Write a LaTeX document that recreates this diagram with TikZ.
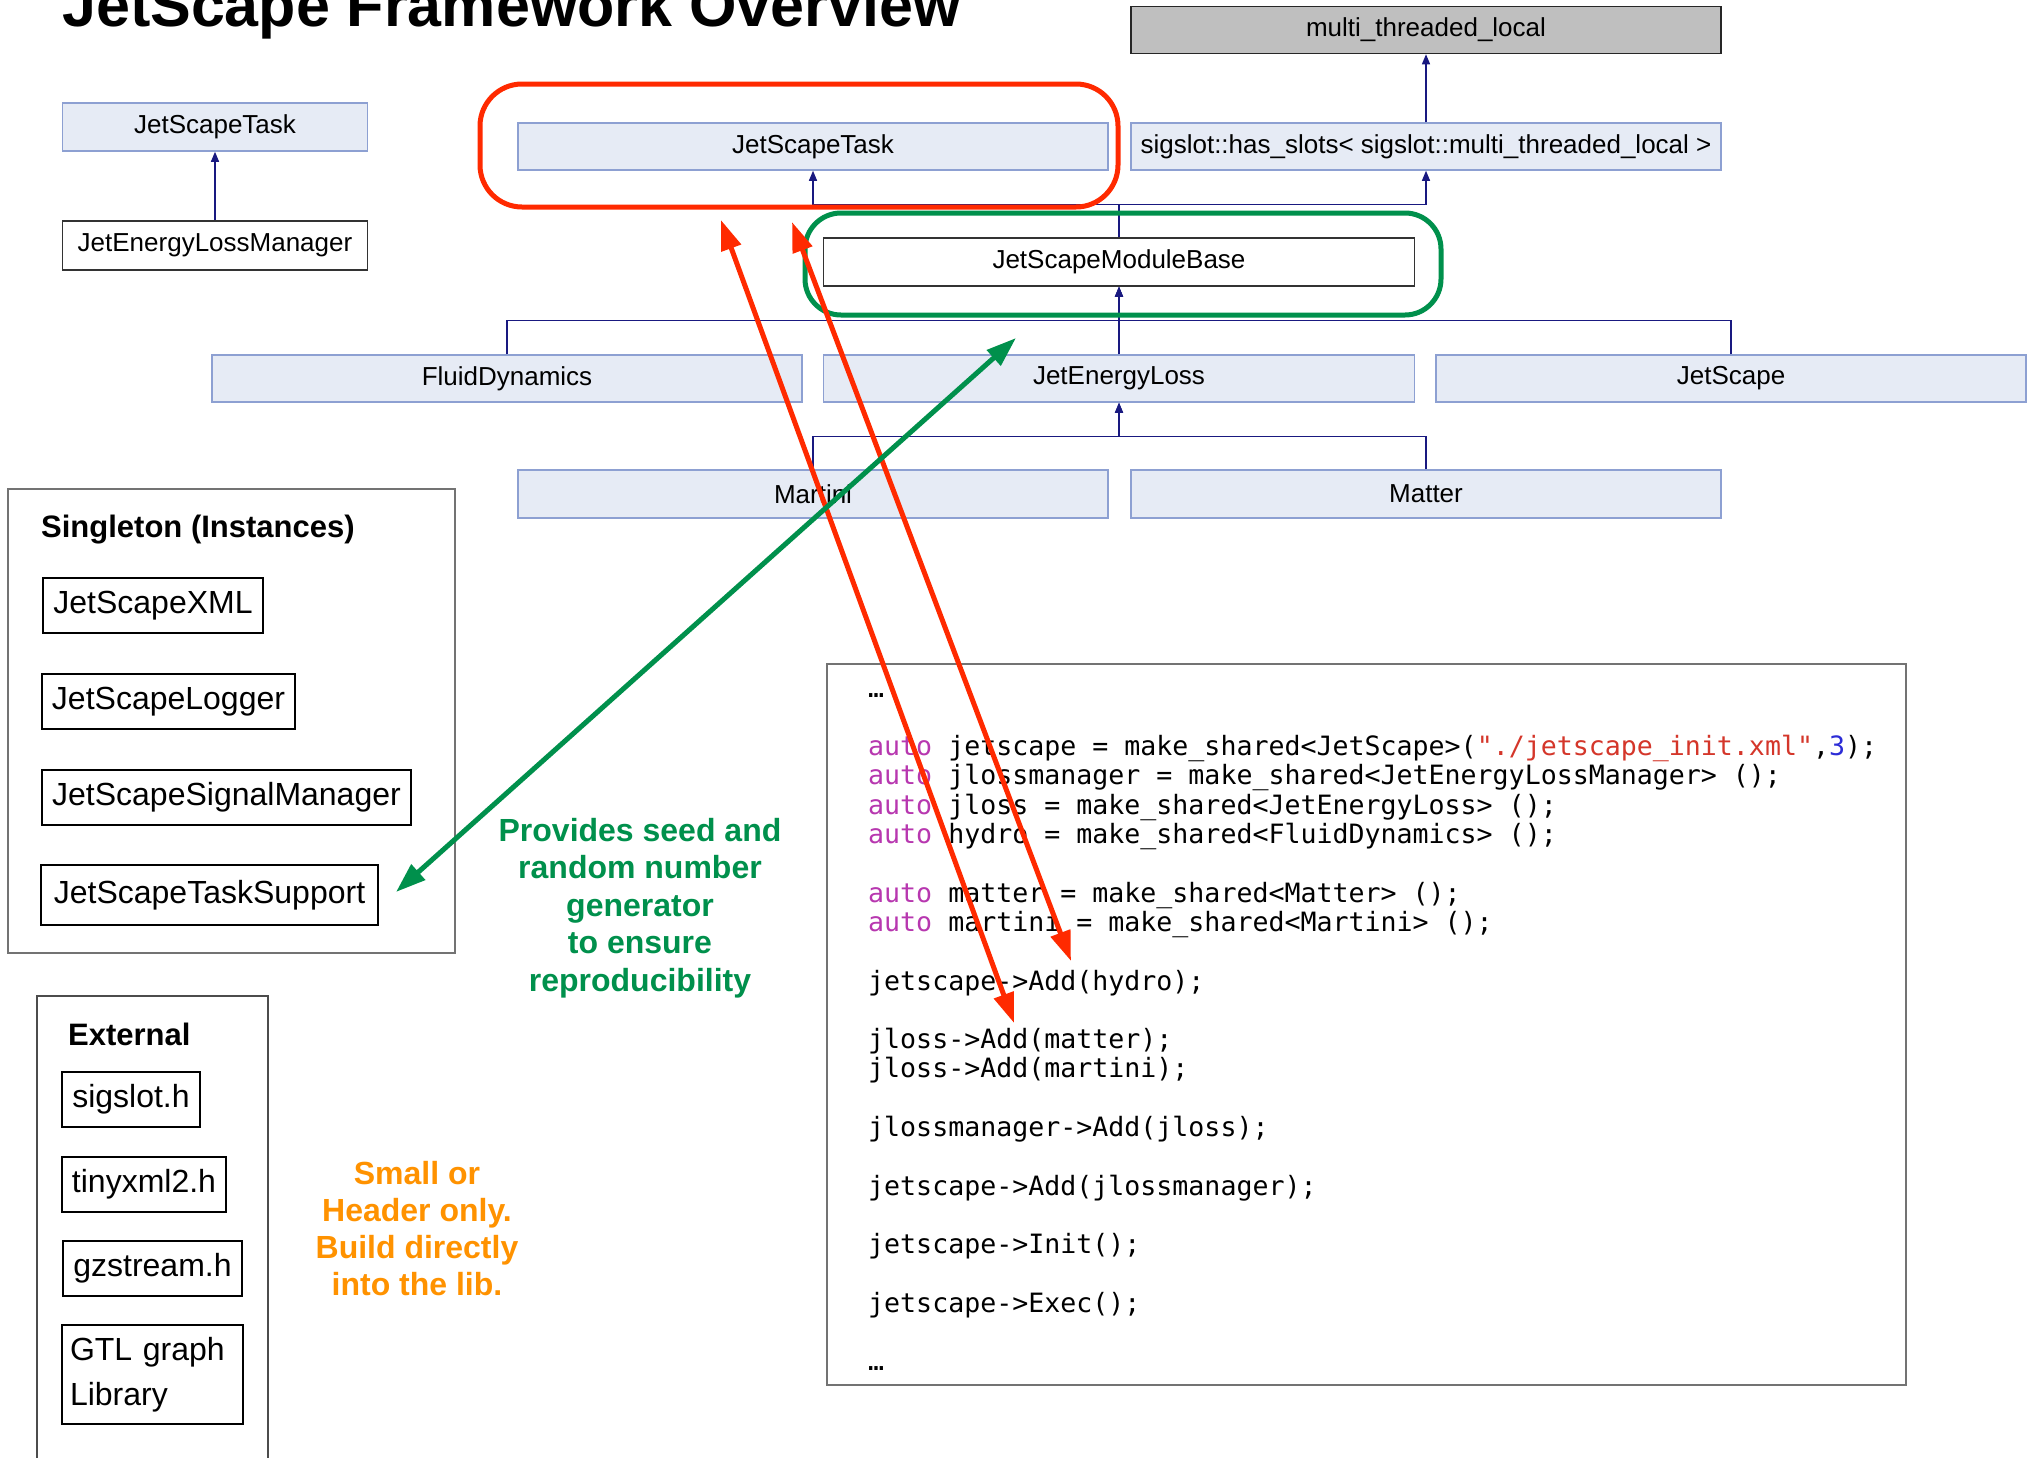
\documentclass[tikz,border=0pt]{standalone}
\usepackage{fontspec}
\setmainfont{Liberation Sans}
\newfontfamily\codefont{DejaVu Sans Mono}
\usetikzlibrary{arrows.meta}

\definecolor{doxfill}{HTML}{E6EBF5}
\definecolor{doxline}{HTML}{8DA0D2}
\definecolor{doxedge}{HTML}{191980}
\definecolor{doxgray}{HTML}{BFBFBF}
\definecolor{jsred}{HTML}{FF2A00}
\definecolor{jsgreen}{HTML}{00904C}
\definecolor{jsorange}{HTML}{FF9200}
\definecolor{kwcol}{HTML}{B737AF}
\definecolor{strcol}{HTML}{D4362A}
\definecolor{numcol}{HTML}{2C2CD6}

\newcommand{\doxfont}{\fontsize{26}{30}\selectfont}
\newcommand{\itemfont}{\fontsize{32}{45}\selectfont}
\newcommand{\headfont}{\fontsize{31}{37}\selectfont\bfseries}
\newcommand{\kw}[1]{\textcolor{kwcol}{#1}}

\begin{document}
\begin{tikzpicture}[x=1pt, y=-1pt,
  dox/.style={draw=doxline, fill=doxfill, line width=1.5pt, minimum width=590pt, minimum height=47pt, inner sep=0pt, font=\doxfont},
  doxwhite/.style={dox, draw=black!80, fill=white},
  doxgrey/.style={dox, draw=black!85, fill=doxgray},
  inh/.style={draw=doxedge, line width=1.3pt, -{Triangle[length=10pt,width=8pt]}},
  item/.style={draw=black, line width=1.3pt, minimum height=55pt, inner sep=0pt, font=\itemfont},
  frame/.style={draw=black!55, line width=1.5pt},
  code/.style={anchor=base west, inner sep=0pt, font=\codefont\fontsize{26.6}{29.3}\selectfont\frenchspacing},
  hiarrow/.style={line width=5pt, {Triangle[length=30pt,width=20pt]}-{Triangle[length=30pt,width=20pt]}},
  hiframe/.style={line width=5pt, rounded corners=42pt}]
\useasboundingbox (0,0) rectangle (2027,1457);

% title
\node[anchor=base west, inner sep=0pt, font=\fontsize{61}{70}\selectfont\bfseries] (title) at (62,26) {JetScape Framework Overview};

% inheritance graphs
\node[dox, minimum width=305pt, minimum height=48pt] (ltask) at (215,127) {JetScapeTask};
\node[doxwhite, minimum width=305pt, minimum height=49pt] (jelm) at (215,245.5) {JetEnergyLossManager};
\draw[inh] (jelm.north) -- (ltask.south);

\node[doxgrey] (mtl) at (1426,30) {multi\_threaded\_local};
\node[dox] (task) at (813,146.5) {JetScapeTask};
\node[dox] (slots) at (1426,146.5) {sigslot::has\_slots< sigslot::multi\_threaded\_local >};
\node[doxwhite, minimum width=591pt, minimum height=48pt] (mb) at (1119,262) {JetScapeModuleBase};
\node[dox] (fluid) at (507,378.5) {FluidDynamics};
\node[dox, minimum width=591pt] (jeloss) at (1119,378.5) {JetEnergyLoss};
\node[dox] (jscape) at (1731,378.5) {JetScape};
\node[dox, minimum height=48pt] (martini) at (813,494) {Martini};
\node[dox, minimum height=48pt] (matter) at (1426,494) {Matter};

\draw[inh] (slots.north) -- (mtl.south);
\draw[inh] (mb.north) -- ++(0,-33) -| (task.south);
\draw[inh] (mb.north) -- ++(0,-33) -| (slots.south);
\draw[inh] (fluid.north) -- ++(0,-34) -| (mb.south);
\draw[inh] (jscape.north) -- ++(0,-34) -| (mb.south);
\draw[inh] (jeloss.north) -- (mb.south);
\draw[inh] (martini.north) -- ++(0,-33) -| (jeloss.south);
\draw[inh] (matter.north) -- ++(0,-33) -| (jeloss.south);

% singletons
\draw[frame] (8,489) rectangle (455,953);
\node[anchor=base west, inner sep=0pt, font=\headfont] (singhead) at (41,537) {Singleton (Instances)};
\node[item, minimum width=220pt] (xml) at (153,605.5) {JetScapeXML};
\node[item, minimum width=253pt] (logger) at (168.5,701.5) {JetScapeLogger};
\node[item, minimum width=369pt] (signal) at (226.5,797.5) {JetScapeSignalManager};
\node[item, minimum width=337pt, minimum height=60pt] (support) at (209.5,895) {JetScapeTaskSupport};

% external libraries
\draw[frame, draw=black!70] (37,1470) -- (37,996) -- (268,996) -- (268,1470);
\node[anchor=base west, inner sep=0pt, font=\headfont] (exthead) at (68,1045) {External};
\node[item, minimum width=138pt] (sigslot) at (131,1099.5) {sigslot.h};
\node[item, minimum width=164pt] (tinyxml) at (144,1184.5) {tinyxml2.h};
\node[item, minimum width=179pt] (gzstream) at (152.5,1268.5) {gzstream.h};
\node[item, minimum height=99pt, text width=165pt, inner xsep=8pt, align=left] (gtl) at (152.5,1374.5) {GTL graph\\Library};

\node[anchor=base, align=center, inner sep=0pt, text=jsorange, font=\fontsize{32}{37}\selectfont\bfseries] (note) at (417,1295) {Small or\\Header only.\\Build directly\\into the lib.};
\node[anchor=base, align=center, inner sep=0pt, text=jsgreen, font=\fontsize{32}{37.5}\selectfont\bfseries] (seed) at (640,991) {Provides seed and\\random number\\generator\\to ensure\\reproducibility};

% code
\draw[frame] (827,664) rectangle (1906,1385);
\node[code] (c0) at (868,697) {…};
\node[code] (c1) at (868,755.6) {\kw{auto} jetscape = make\_shared<JetScape>(\textcolor{strcol}{"./jetscape\_init.xml"},\textcolor{numcol}{3});};
\node[code] (c2) at (868,784.9) {\kw{auto} jlossmanager = make\_shared<JetEnergyLossManager> ();};
\node[code] (c3) at (868,814.2) {\kw{auto} jloss = make\_shared<JetEnergyLoss> ();};
\node[code] (c4) at (868,843.5) {\kw{auto} hydro = make\_shared<FluidDynamics> ();};
\node[code] (c5) at (868,902.1) {\kw{auto} matter = make\_shared<Matter> ();};
\node[code] (c6) at (868,931.4) {\kw{auto} martini = make\_shared<Martini> ();};
\node[code] (c7) at (868,990) {jetscape->Add(hydro);};
\node[code] (c8) at (868,1048.6) {jloss->Add(matter);};
\node[code] (c9) at (868,1077.9) {jloss->Add(martini);};
\node[code] (c10) at (868,1136.5) {jlossmanager->Add(jloss);};
\node[code] (c11) at (868,1195.1) {jetscape->Add(jlossmanager);};
\node[code] (c12) at (868,1253.7) {jetscape->Init();};
\node[code] (c13) at (868,1312.3) {jetscape->Exec();};
\node[code] (c14) at (868,1370.9) {…};

% highlights
\draw[hiframe, draw=jsred] (480,84) rectangle (1118,207);
\draw[hiframe, draw=jsgreen, rounded corners=36pt] (805,213) rectangle (1441,315);

\coordinate (taskA) at (721,220);
\coordinate (matterAdd) at (1014,1023);
\coordinate (taskB) at (792,222);
\coordinate (hydroAdd) at (1071,961);
\coordinate (mbTip) at (1016,338);
\coordinate (supportTip) at (396,892);
\draw[hiarrow, draw=jsred, fill=jsred] (taskA) -- (matterAdd);
\draw[hiarrow, draw=jsred, fill=jsred] (taskB) -- (hydroAdd);
\draw[hiarrow, draw=jsgreen, fill=jsgreen] (mbTip) -- (supportTip);
\end{tikzpicture}
\end{document}
